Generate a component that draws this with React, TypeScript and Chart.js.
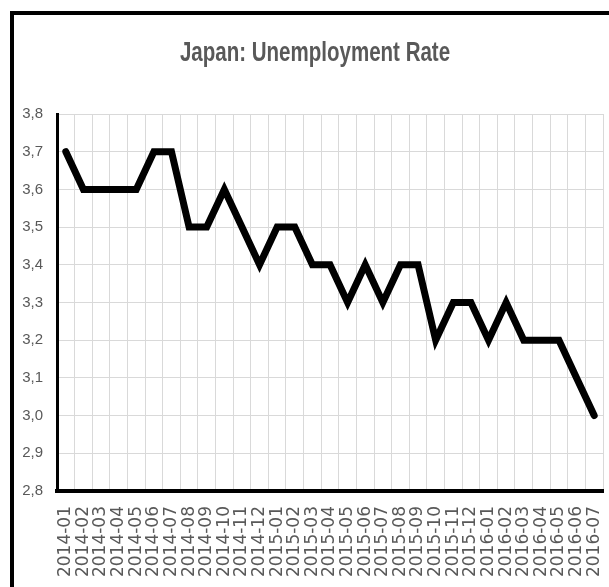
import React, { useEffect, useRef } from "react";
import { Chart, registerables } from "chart.js";

Chart.register(...registerables);

const TITLE = "Japan: Unemployment Rate";

const MONTHS = [
  "2014-01", "2014-02", "2014-03", "2014-04", "2014-05", "2014-06",
  "2014-07", "2014-08", "2014-09", "2014-10", "2014-11", "2014-12",
  "2015-01", "2015-02", "2015-03", "2015-04", "2015-05", "2015-06",
  "2015-07", "2015-08", "2015-09", "2015-10", "2015-11", "2015-12",
  "2016-01", "2016-02", "2016-03", "2016-04", "2016-05", "2016-06",
  "2016-07",
];

const RATES = [
  3.7, 3.6, 3.6, 3.6, 3.6, 3.7,
  3.7, 3.5, 3.5, 3.6, 3.5, 3.4,
  3.5, 3.5, 3.4, 3.4, 3.3, 3.4,
  3.3, 3.4, 3.4, 3.2, 3.3, 3.3,
  3.2, 3.3, 3.2, 3.2, 3.2, 3.1,
  3.0,
];

const Y_MIN = 2.8;
const Y_MAX = 3.8;
const Y_STEP = 0.1;

const framePlugin = {
  id: "frame",
  beforeDraw(chart: any) {
    const ctx = chart.ctx;
    ctx.save();
    ctx.fillStyle = "#ffffff";
    ctx.fillRect(0, 0, chart.width, chart.height);
    ctx.fillStyle = "#000000";
    ctx.fillRect(10, 11, chart.width - 10, 4);
    ctx.fillRect(10, 11, 4, chart.height - 11);
    ctx.restore();
  },
};

// Title drawn as real text, horizontally condensed like the reference
const titlePlugin = {
  id: "condensedTitle",
  afterDraw(chart: any) {
    const ctx = chart.ctx;
    ctx.save();
    ctx.translate(315, 54);
    ctx.scale(0.76, 1);
    ctx.font = "bold 27px 'Liberation Sans', Arial, sans-serif";
    ctx.fillStyle = "#595959";
    ctx.textAlign = "center";
    ctx.textBaseline = "middle";
    ctx.fillText(TITLE, 0, 0);
    ctx.restore();
  },
};

export default function App() {
  const ref = useRef<HTMLCanvasElement | null>(null);

  useEffect(() => {
    if (!ref.current) return;
    const sans = "'Liberation Sans', Arial, sans-serif";
    const chart = new Chart(ref.current, {
      type: "line",
      data: {
        labels: MONTHS,
        datasets: [
          {
            data: RATES,
            borderColor: "#000000",
            backgroundColor: "#000000",
            borderWidth: 7,
            pointRadius: 0,
            pointHoverRadius: 0,
            tension: 0,
            borderJoinStyle: "miter",
            borderCapStyle: "round",
            fill: false,
          },
        ],
      },
      plugins: [framePlugin, titlePlugin],
      options: {
        animation: false,
        responsive: false,
        devicePixelRatio: 1,
        layout: { padding: { left: 18, right: 6, top: 114, bottom: 0 } },
        plugins: {
          legend: { display: false },
          tooltip: { enabled: false },
          title: { display: false },
        },
        scales: {
          x: {
            type: "category",
            offset: true,
            grid: { color: "#d9d9d9", lineWidth: 1, offset: true, drawTicks: false },
            border: { color: "#000000", width: 4 },
            ticks: {
              autoSkip: false,
              maxRotation: 90,
              minRotation: 90,
              padding: 15,
              color: "#595959",
              font: { family: "'DejaVu Sans', sans-serif", size: 17 },
            },
            afterFit: (s: any) => {
              s.height = 96;
              s.paddingLeft = 0;
              s.paddingRight = 0;
            },
          },
          y: {
            min: Y_MIN,
            max: Y_MAX,
            grid: { color: "#d9d9d9", lineWidth: 1, drawTicks: false },
            border: { color: "#000000", width: 3 },
            ticks: {
              stepSize: Y_STEP,
              padding: 14,
              color: "#595959",
              font: { family: sans, size: 15 },
              callback: (v: any) => Number(v).toFixed(1).replace(".", ","),
            },
            afterFit: (s: any) => {
              s.width = 39;
              s.paddingTop = 0;
              s.paddingBottom = 0;
            },
          },
        },
      } as any,
    });
    return () => chart.destroy();
  }, []);

  return (
    <div
      style={{
        position: "fixed",
        left: 0,
        top: 0,
        width: 609,
        height: 587,
        overflow: "hidden",
        background: "#ffffff",
      }}
    >
      <canvas ref={ref} width={609} height={587} style={{ display: "block" }} />
    </div>
  );
}
